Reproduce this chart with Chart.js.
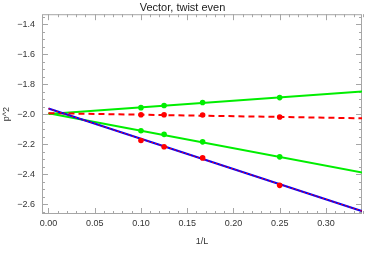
<!DOCTYPE html>
<html>
<head>
<meta charset="utf-8">
<script src="https://cdn.jsdelivr.net/npm/chart.js@4"></script>
<style>
  html, body { margin: 0; padding: 0; background: #ffffff; }
  #wrap { width: 366px; height: 257px; }
</style>
</head>
<body>
<div id="wrap"><canvas id="myChart" width="366" height="257"></canvas></div>
<script>
// Datos
const puntosX = [0.1, 0.125, 1 / 6, 0.25];
const verdeArriba = [-1.956, -1.942, -1.922, -1.889];
const verdeAbajo = [-2.110, -2.134, -2.184, -2.284];
const rojoPlano = [-2.003, -2.003, -2.005, -2.018];
const rojoAzul = [-2.175, -2.217, -2.291, -2.474];

// Rectas de ajuste (x = 0 y x = 0.34)
const ajusteX = [0, 0.34];
const ajusteVerdeArriba = [-1.998, -1.848];
const ajusteVerdeAbajo = [-1.994, -2.389];
const ajusteRojo = [-1.993, -2.027];
const ajusteAzul = [-1.962, -2.648];

// Ticks de los ejes
const ticksX = [0, 0.05, 0.1, 0.15, 0.2, 0.25, 0.3];
const ticksY = [-2.6, -2.4, -2.2, -2.0, -1.8, -1.6, -1.4];

const pares = (xs, ys) => xs.map((x, i) => ({ x: x, y: ys[i] }));

const GRIS = "#a6a6a6";

// Marco y ticks hacia adentro, estilo Mathematica
const marcoPlugin = {
    id: "marco",
    beforeDatasetsDraw(chart) {
        const ctx = chart.ctx;
        const a = chart.chartArea;
        const sx = chart.scales.x;
        const sy = chart.scales.y;
        ctx.save();
        ctx.strokeStyle = GRIS;
        ctx.lineWidth = 1;
        ctx.strokeRect(a.left + 0.5, a.top + 0.5, a.right - a.left - 1, a.bottom - a.top - 1);
        ctx.beginPath();
        for (let i = 0; i <= 34; i++) {
            const v = i / 100;
            const px = Math.round(sx.getPixelForValue(v)) + 0.5;
            const len = i % 5 === 0 ? 6 : 3;
            ctx.moveTo(px, a.bottom); ctx.lineTo(px, a.bottom - len);
            ctx.moveTo(px, a.top); ctx.lineTo(px, a.top + len);
        }
        for (let i = 0; i <= 26; i++) {
            const v = -2.65 + i * 0.05;
            const py = Math.round(sy.getPixelForValue(v)) + 0.5;
            const mayor = Math.abs(Math.round(v * 5) - v * 5) < 1e-6;
            const len = mayor ? 6 : 3;
            ctx.moveTo(a.left, py); ctx.lineTo(a.left + len, py);
            ctx.moveTo(a.right, py); ctx.lineTo(a.right - len, py);
        }
        ctx.stroke();
        ctx.restore();
    }
};

const formato = (v, dec) => {
    const s = Math.abs(v).toFixed(dec);
    return v < -1e-9 ? "\u2212" + s : s;
};

const config = {
    type: "scatter",
    data: {
        datasets: [
            {
                label: "rojo sobre azul",
                data: pares(puntosX, rojoAzul),
                showLine: false,
                pointRadius: 2.8,
                pointBackgroundColor: "#ff0000",
                pointBorderWidth: 0,
                order: 1,
            },
            {
                label: "rojo plano",
                data: pares(puntosX, rojoPlano),
                showLine: false,
                pointRadius: 2.8,
                pointBackgroundColor: "#ff0000",
                pointBorderWidth: 0,
                order: 1,
            },
            {
                label: "verde arriba",
                data: pares(puntosX, verdeArriba),
                showLine: false,
                pointRadius: 2.8,
                pointBackgroundColor: "#00ee00",
                pointBorderWidth: 0,
                order: 1,
            },
            {
                label: "verde abajo",
                data: pares(puntosX, verdeAbajo),
                showLine: false,
                pointRadius: 2.8,
                pointBackgroundColor: "#00ee00",
                pointBorderWidth: 0,
                order: 1,
            },
            {
                label: "ajuste rojo azul",
                data: pares(ajusteX, ajusteAzul),
                showLine: true,
                borderColor: "#ff0000",
                borderWidth: 1,
                borderDash: [2, 2],
                pointRadius: 0,
                order: 2,
            },
            {
                label: "ajuste azul",
                data: pares(ajusteX, ajusteAzul),
                showLine: true,
                borderColor: "#0000ff",
                borderWidth: 2.2,
                pointRadius: 0,
                order: 3,
            },
            {
                label: "ajuste rojo",
                data: pares(ajusteX, ajusteRojo),
                showLine: true,
                borderColor: "#ff0000",
                borderWidth: 2,
                borderDash: [6, 4],
                pointRadius: 0,
                order: 4,
            },
            {
                label: "ajuste verde arriba",
                data: pares(ajusteX, ajusteVerdeArriba),
                showLine: true,
                borderColor: "#00ee00",
                borderWidth: 2,
                pointRadius: 0,
                order: 5,
            },
            {
                label: "ajuste verde abajo",
                data: pares(ajusteX, ajusteVerdeAbajo),
                showLine: true,
                borderColor: "#00ee00",
                borderWidth: 2,
                pointRadius: 0,
                order: 5,
            },
        ]
    },
    options: {
        responsive: false,
        animation: false,
        devicePixelRatio: 1,
        layout: {
            padding: { top: 0, right: 1, bottom: 0, left: 0 },
        },
        scales: {
            x: {
                type: "linear",
                min: -0.007,
                max: 0.339,
                grid: { display: false, drawTicks: false },
                border: { display: false },
                afterFit: (s) => { s.height = 43; },
                afterBuildTicks: (s) => { s.ticks = ticksX.map(v => ({ value: v })); },
                ticks: {
                    padding: 4,
                    color: "#333333",
                    font: { family: "Liberation Sans", size: 9 },
                    callback: (v) => formato(v, 2),
                },
                title: {
                    display: true,
                    text: "1/L",
                    color: "#333333",
                    font: { family: "Liberation Sans", size: 9 },
                    padding: { top: 0, bottom: 10 },
                },
            },
            y: {
                type: "linear",
                min: -2.665,
                max: -1.333,
                grid: { display: false, drawTicks: false },
                border: { display: false },
                afterFit: (s) => { s.width = 42; },
                afterBuildTicks: (s) => { s.ticks = ticksY.map(v => ({ value: v })); },
                ticks: {
                    padding: 7,
                    color: "#333333",
                    font: { family: "Liberation Sans", size: 9 },
                    callback: (v) => formato(v, 1),
                },
                title: {
                    display: true,
                    text: "p^2",
                    color: "#333333",
                    font: { family: "Liberation Sans", size: 9 },
                    padding: { top: 1, bottom: 0 },
                },
            },
        },
        plugins: {
            legend: { display: false },
            tooltip: { enabled: false },
            title: {
                display: true,
                text: "Vector, twist even",
                color: "#222222",
                font: { family: "Liberation Sans", size: 11, weight: "normal" },
                padding: { top: 1, bottom: 0 },
            },
        },
    },
    plugins: [marcoPlugin],
};

const myChart = document.getElementById("myChart");
new Chart(myChart, config);
</script>
</body>
</html>
